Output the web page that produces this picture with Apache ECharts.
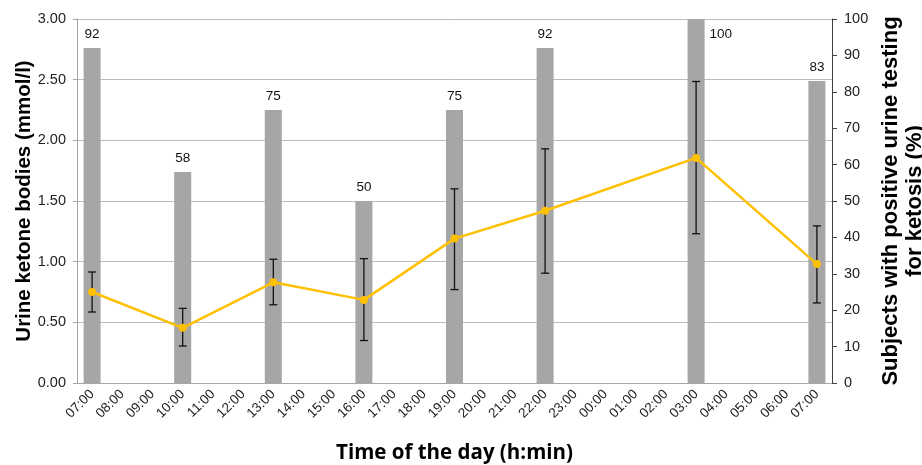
<!DOCTYPE html>
<html>
<head>
<meta charset="utf-8">
<script src="https://cdn.jsdelivr.net/npm/echarts@6/dist/echarts.min.js"></script>
<style>html,body{margin:0;padding:0;background:#fff}#c{width:922px;height:465px}</style>
</head>
<body>
<div id="c"></div>
<script>
var hours = ['07:00','08:00','09:00','10:00','11:00','12:00','13:00','14:00','15:00','16:00','17:00','18:00','19:00','20:00','21:00','22:00','23:00','00:00','01:00','02:00','03:00','04:00','05:00','06:00','07:00'];
var sampleIdx = [0, 3, 6, 9, 12, 15, 20, 24];
var positivePct = [92, 58, 75, 50, 75, 92, 100, 83];
var ketoneMean = [0.75, 0.455, 0.83, 0.685, 1.19, 1.42, 1.855, 0.98];
var ketoneLow = [0.585, 0.305, 0.645, 0.35, 0.77, 0.905, 1.23, 0.66];
var ketoneHigh = [0.915, 0.615, 1.02, 1.025, 1.60, 1.93, 2.485, 1.295];
var leftTicks = [0, 0.5, 1, 1.5, 2, 2.5, 3];
var rightTicks = [0, 10, 20, 30, 40, 50, 60, 70, 80, 90, 100];

var barData = hours.map(function(){ return null; });
var lineData = hours.map(function(){ return null; });
sampleIdx.forEach(function(ci, k){
  barData[ci] = positivePct[k] === 100
    ? {value: positivePct[k], label: {position: [22, 8]}}
    : positivePct[k];
  lineData[ci] = ketoneMean[k];
});
var errData = sampleIdx.map(function(ci, k){ return [ci, ketoneLow[k], ketoneHigh[k]]; });

var font = 'Liberation Sans, Arial, sans-serif';
var chart = echarts.init(document.getElementById('c'), null, {renderer: 'canvas'});
chart.setOption({
  animation: false,
  backgroundColor: '#fff',
  grid: {left: 77, right: 90, top: 19, bottom: 82, containLabel: false, outerBoundsMode: 'none'},
  xAxis: {
    type: 'category',
    data: hours,
    boundaryGap: true,
    name: 'Time of the day (h:min)',
    nameLocation: 'middle',
    nameGap: 60,
    nameMoveOverlap: false,
    nameTextStyle: {fontFamily: 'Open Sans, Liberation Sans, sans-serif', fontWeight: 'bold', fontSize: 20.5, color: '#000'},
    axisLine: {lineStyle: {color: '#a6a6a6', width: 1}},
    axisTick: {alignWithLabel: true, length: 5, lineStyle: {color: '#a6a6a6'}},
    axisLabel: {rotate: 45, interval: 0, fontFamily: font, fontSize: 13.5, color: '#222', margin: 9}
  },
  yAxis: [{
    type: 'value',
    min: 0, max: 3, interval: 0.5,
    name: 'Urine ketone bodies (mmol/l)',
    nameLocation: 'middle',
    nameRotate: 90,
    nameGap: 42,
    nameMoveOverlap: false,
    nameTextStyle: {fontFamily: font, fontWeight: 'bold', fontSize: 20.5, color: '#000'},
    axisLine: {show: true, lineStyle: {color: '#a6a6a6'}},
    axisTick: {show: true, length: 4, lineStyle: {color: '#a6a6a6'}},
    axisLabel: {formatter: function(v){ return v.toFixed(2); }, fontFamily: font, fontSize: 14.5, color: '#222', margin: 11},
    splitLine: {show: true, lineStyle: {color: '#bcbcbc', width: 1}}
  }, {
    type: 'value',
    min: 0, max: 100, interval: 10,
    name: 'Subjects with positive urine testing\nfor ketosis (%)',
    nameLocation: 'middle',
    nameRotate: 90,
    nameGap: 45,
    nameTextStyle: {fontFamily: font, fontWeight: 'bold', fontSize: 22, color: '#000', lineHeight: 24},
    position: 'right',
    axisLine: {show: true, lineStyle: {color: '#404040'}},
    axisTick: {show: true, length: 5, lineStyle: {color: '#404040'}},
    axisLabel: {fontFamily: font, fontSize: 14.5, color: '#222', margin: 12},
    splitLine: {show: false}
  }],
  series: [{
    type: 'bar',
    yAxisIndex: 1,
    data: barData,
    barWidth: 17,
    itemStyle: {color: '#a6a6a6'},
    label: {show: true, position: 'top', distance: 7, fontFamily: font, fontSize: 13.5, color: '#111'},
    z: 1
  }, {
    type: 'custom',
    yAxisIndex: 0,
    data: errData,
    z: 3,
    renderItem: function(params, api){
      var x = api.value(0);
      var lo = api.coord([x, api.value(1)]);
      var hi = api.coord([x, api.value(2)]);
      var w = 4;
      var st = {stroke: '#111', lineWidth: 1.3};
      return {type: 'group', children: [
        {type: 'line', shape: {x1: lo[0], y1: lo[1], x2: hi[0], y2: hi[1]}, style: st},
        {type: 'line', shape: {x1: lo[0]-w, y1: lo[1], x2: lo[0]+w, y2: lo[1]}, style: st},
        {type: 'line', shape: {x1: hi[0]-w, y1: hi[1], x2: hi[0]+w, y2: hi[1]}, style: st}
      ]};
    }
  }, {
    type: 'line',
    yAxisIndex: 0,
    data: lineData,
    connectNulls: true,
    symbol: 'circle',
    symbolSize: 8,
    lineStyle: {color: '#ffc000', width: 2.5},
    itemStyle: {color: '#ffc000'},
    z: 4
  }]
});
</script>
</body>
</html>
